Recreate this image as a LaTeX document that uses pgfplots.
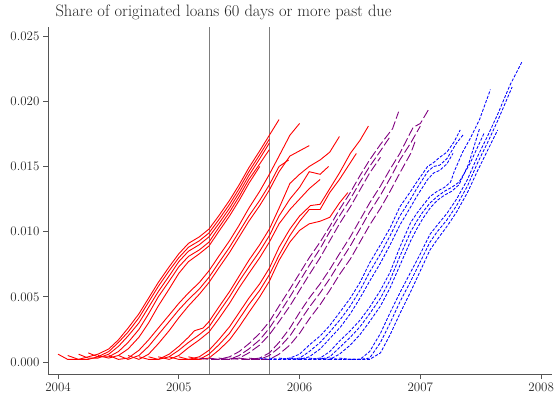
\documentclass[border=0pt]{standalone}
\usepackage{pgfplots}
\pgfplotsset{compat=1.18}
\usetikzlibrary{calc}

\definecolor{spine}{RGB}{85,85,85}
\definecolor{refline}{RGB}{125,125,125}
\definecolor{cohortred}{RGB}{255,0,0}
\definecolor{cohortpurple}{RGB}{128,0,128}
\definecolor{cohortblue}{RGB}{0,0,255}

\pgfplotsset{
  early/.style={cohortred, line width=0.9pt, no markers},
  middle/.style={cohortpurple, line width=0.9pt, no markers, dash pattern=on 9pt off 3pt},
  late/.style={cohortblue, line width=0.85pt, no markers, dash pattern=on 3pt off 1.6pt},
}

\begin{document}
\begin{tikzpicture}
\begin{axis}[
  name=ax,
  scale only axis,
  width=504pt, height=347pt,
  xmin=2003.917, xmax=2008.09,
  ymin=-0.00092, ymax=0.0257,
  axis lines=left,
  axis line style={-, spine, line width=0.9pt},
  tick align=outside,
  major tick length=5pt,
  tick style={spine, line width=0.8pt},
  xtick={2004,2005,2006,2007,2008},
  ytick={0,0.005,0.010,0.015,0.020,0.025},
  scaled y ticks=false,
  /pgf/number format/assume math mode=true,
  xticklabel style={/pgf/number format/1000 sep={}, font=\fontsize{13}{15}\selectfont, text=black!85},
  yticklabel style={/pgf/number format/.cd, fixed, fixed zerofill, precision=3,
                    /tikz/.cd, font=\fontsize{13}{15}\selectfont, text=black!85},
  clip=true,
]

% reference dates
\addplot[refline, line width=0.8pt] coordinates {(2005.25,-0.00092) (2005.25,0.0257)};
\addplot[refline, line width=0.8pt] coordinates {(2005.75,-0.00092) (2005.75,0.0257)};

% ---- early cohorts (solid red) ----
\addplot[early] coordinates {(2004.00,0.0006) (2004.08,0.0002) (2004.17,0.0002) (2004.25,0.0004) (2004.33,0.0006) (2004.42,0.0010) (2004.50,0.0017) (2004.58,0.0026) (2004.67,0.0037) (2004.75,0.0049) (2004.83,0.0061) (2004.92,0.0073) (2005.00,0.0083) (2005.08,0.0091) (2005.17,0.0096) (2005.25,0.0102) (2005.33,0.0112) (2005.42,0.0124) (2005.50,0.0136) (2005.58,0.0149) (2005.67,0.0162) (2005.75,0.0174) (2005.83,0.0186)};
\addplot[early] coordinates {(2004.08,0.0005) (2004.17,0.0002) (2004.25,0.0002) (2004.33,0.0004) (2004.42,0.0008) (2004.50,0.0015) (2004.58,0.0023) (2004.67,0.0034) (2004.75,0.0046) (2004.83,0.0058) (2004.92,0.0070) (2005.00,0.0080) (2005.08,0.0088) (2005.17,0.0093) (2005.25,0.0099) (2005.33,0.0109) (2005.42,0.0121) (2005.50,0.0133) (2005.58,0.0146) (2005.67,0.0159) (2005.75,0.0171)};
\addplot[early] coordinates {(2004.17,0.0006) (2004.25,0.0003) (2004.33,0.0003) (2004.42,0.0006) (2004.50,0.0012) (2004.58,0.0020) (2004.67,0.0030) (2004.75,0.0042) (2004.83,0.0054) (2004.92,0.0066) (2005.00,0.0077) (2005.08,0.0085) (2005.17,0.0090) (2005.25,0.0096) (2005.33,0.0106) (2005.42,0.0118) (2005.50,0.0130) (2005.58,0.0143) (2005.67,0.0156) (2005.75,0.0168)};
\addplot[early] coordinates {(2004.25,0.0007) (2004.33,0.0004) (2004.42,0.0004) (2004.50,0.0008) (2004.58,0.0015) (2004.67,0.0025) (2004.75,0.0037) (2004.83,0.0050) (2004.92,0.0062) (2005.00,0.0073) (2005.08,0.0081) (2005.17,0.0086) (2005.25,0.0092) (2005.33,0.0103) (2005.42,0.0115) (2005.50,0.0127) (2005.58,0.0140) (2005.67,0.0152) (2005.75,0.0163)};
\addplot[early] coordinates {(2004.33,0.0005) (2004.42,0.0003) (2004.50,0.0005) (2004.58,0.0010) (2004.67,0.0019) (2004.75,0.0030) (2004.83,0.0043) (2004.92,0.0056) (2005.00,0.0068) (2005.08,0.0077) (2005.17,0.0083) (2005.25,0.0089) (2005.33,0.0100) (2005.42,0.0112) (2005.50,0.0124) (2005.58,0.0137) (2005.67,0.0150)};

\addplot[early] coordinates {(2004.42,0.0005) (2004.50,0.0002) (2004.58,0.0003) (2004.67,0.0009) (2004.75,0.0017) (2004.83,0.0026) (2004.92,0.0036) (2005.00,0.0045) (2005.08,0.0053) (2005.17,0.0061) (2005.25,0.0070) (2005.33,0.0081) (2005.42,0.0093) (2005.50,0.0105) (2005.58,0.0118) (2005.67,0.0131) (2005.75,0.0144) (2005.83,0.0158) (2005.92,0.0174) (2006.00,0.0183)};
\addplot[early] coordinates {(2004.50,0.0005) (2004.58,0.0002) (2004.67,0.0005) (2004.75,0.0012) (2004.83,0.0021) (2004.92,0.0031) (2005.00,0.0040) (2005.08,0.0048) (2005.17,0.0056) (2005.25,0.0065) (2005.33,0.0076) (2005.42,0.0088) (2005.50,0.0100) (2005.58,0.0112) (2005.67,0.0124) (2005.75,0.0136) (2005.83,0.0150) (2005.91,0.0155)};
\addplot[early] coordinates {(2004.58,0.0005) (2004.67,0.0002) (2004.75,0.0006) (2004.83,0.0014) (2004.92,0.0024) (2005.00,0.0034) (2005.08,0.0043) (2005.17,0.0052) (2005.25,0.0061) (2005.33,0.0072) (2005.42,0.0084) (2005.50,0.0096) (2005.58,0.0108) (2005.67,0.0120) (2005.75,0.0132) (2005.83,0.0146) (2005.92,0.0158) (2006.00,0.0162) (2006.08,0.0166)};

\addplot[early] coordinates {(2004.67,0.0004) (2004.75,0.0002) (2004.83,0.0002) (2004.92,0.0006) (2005.00,0.0012) (2005.08,0.0019) (2005.13,0.0024) (2005.20,0.0026) (2005.25,0.0031) (2005.33,0.0042) (2005.42,0.0054) (2005.50,0.0066) (2005.58,0.0078) (2005.67,0.0090) (2005.75,0.0102) (2005.83,0.0118) (2005.92,0.0137) (2006.00,0.0144) (2006.08,0.0150) (2006.17,0.0155) (2006.25,0.0161) (2006.33,0.0173)};
\addplot[early] coordinates {(2004.75,0.0004) (2004.83,0.0002) (2004.92,0.0004) (2005.00,0.0009) (2005.08,0.0015) (2005.17,0.0021) (2005.25,0.0027) (2005.33,0.0038) (2005.42,0.0050) (2005.50,0.0062) (2005.58,0.0073) (2005.67,0.0085) (2005.75,0.0097) (2005.83,0.0112) (2005.92,0.0125) (2006.00,0.0134) (2006.08,0.0146) (2006.17,0.0144) (2006.24,0.0150)};
\addplot[early] coordinates {(2004.83,0.0004) (2004.92,0.0002) (2005.00,0.0005) (2005.08,0.0011) (2005.17,0.0017) (2005.25,0.0023) (2005.33,0.0033) (2005.42,0.0045) (2005.50,0.0057) (2005.58,0.0068) (2005.67,0.0080) (2005.75,0.0092) (2005.83,0.0106) (2005.92,0.0117) (2006.00,0.0125) (2006.08,0.0133) (2006.17,0.0140)};

\addplot[early] coordinates {(2004.92,0.0004) (2005.00,0.0002) (2005.08,0.0002) (2005.17,0.0004) (2005.25,0.0009) (2005.33,0.0017) (2005.42,0.0027) (2005.50,0.0038) (2005.58,0.0049) (2005.67,0.0060) (2005.75,0.0072) (2005.83,0.0088) (2005.92,0.0102) (2006.00,0.0112) (2006.09,0.0120) (2006.17,0.0121) (2006.25,0.0133) (2006.33,0.0145) (2006.42,0.0160) (2006.50,0.0170) (2006.57,0.0181)};
\addplot[early] coordinates {(2005.00,0.0004) (2005.08,0.0002) (2005.17,0.0002) (2005.25,0.0006) (2005.33,0.0013) (2005.42,0.0022) (2005.50,0.0033) (2005.58,0.0044) (2005.67,0.0055) (2005.75,0.0067) (2005.83,0.0082) (2005.92,0.0097) (2006.00,0.0108) (2006.08,0.0117) (2006.17,0.0117) (2006.25,0.0130) (2006.33,0.0140) (2006.40,0.0150) (2006.47,0.0160)};
\addplot[early] coordinates {(2005.08,0.0004) (2005.17,0.0002) (2005.25,0.0003) (2005.33,0.0009) (2005.42,0.0017) (2005.50,0.0027) (2005.58,0.0038) (2005.67,0.0050) (2005.75,0.0062) (2005.83,0.0078) (2005.92,0.0092) (2006.00,0.0101) (2006.08,0.0106) (2006.17,0.0108) (2006.25,0.0111) (2006.33,0.0122) (2006.40,0.0130)};

% ---- middle cohorts (long-dashed purple) ----
\addplot[middle] coordinates {(2005.17,0.0003) (2005.25,0.0002) (2005.33,0.0002) (2005.42,0.0004) (2005.50,0.0008) (2005.58,0.0014) (2005.67,0.0022) (2005.75,0.0031) (2005.83,0.0043) (2005.92,0.0056) (2006.00,0.0068) (2006.08,0.0080) (2006.17,0.0092) (2006.25,0.0104) (2006.33,0.0117) (2006.42,0.0130) (2006.50,0.0143) (2006.58,0.0155) (2006.67,0.0167) (2006.77,0.0179) (2006.82,0.0192)};
\addplot[middle] coordinates {(2005.25,0.0003) (2005.33,0.0002) (2005.42,0.0002) (2005.50,0.0005) (2005.58,0.0010) (2005.67,0.0017) (2005.75,0.0026) (2005.83,0.0037) (2005.92,0.0050) (2006.00,0.0062) (2006.08,0.0074) (2006.17,0.0087) (2006.25,0.0100) (2006.33,0.0112) (2006.42,0.0125) (2006.50,0.0138) (2006.58,0.0150) (2006.67,0.0162) (2006.75,0.0173)};
\addplot[middle] coordinates {(2005.33,0.0003) (2005.42,0.0002) (2005.50,0.0003) (2005.58,0.0007) (2005.67,0.0013) (2005.75,0.0021) (2005.83,0.0031) (2005.92,0.0043) (2006.00,0.0055) (2006.08,0.0067) (2006.17,0.0080) (2006.25,0.0093) (2006.33,0.0106) (2006.42,0.0119) (2006.50,0.0132) (2006.58,0.0145) (2006.67,0.0157)};

\addplot[middle] coordinates {(2005.42,0.0003) (2005.50,0.0002) (2005.58,0.0002) (2005.67,0.0003) (2005.75,0.0007) (2005.83,0.0015) (2005.92,0.0026) (2006.00,0.0038) (2006.08,0.0049) (2006.17,0.0060) (2006.25,0.0071) (2006.33,0.0083) (2006.42,0.0096) (2006.50,0.0109) (2006.58,0.0122) (2006.67,0.0135) (2006.75,0.0148) (2006.83,0.0160) (2006.94,0.0180) (2007.00,0.0183) (2007.07,0.0194)};
\addplot[middle] coordinates {(2005.50,0.0003) (2005.58,0.0002) (2005.67,0.0002) (2005.75,0.0005) (2005.83,0.0011) (2005.92,0.0020) (2006.00,0.0031) (2006.08,0.0042) (2006.17,0.0053) (2006.25,0.0064) (2006.33,0.0076) (2006.42,0.0089) (2006.50,0.0102) (2006.58,0.0115) (2006.67,0.0128) (2006.75,0.0141) (2006.83,0.0155) (2006.92,0.0168) (2007.00,0.0181)};
\addplot[middle] coordinates {(2005.58,0.0003) (2005.67,0.0002) (2005.75,0.0002) (2005.83,0.0006) (2005.92,0.0013) (2006.00,0.0022) (2006.08,0.0033) (2006.17,0.0044) (2006.25,0.0055) (2006.33,0.0067) (2006.42,0.0079) (2006.50,0.0092) (2006.58,0.0105) (2006.67,0.0118) (2006.75,0.0131) (2006.83,0.0145) (2006.92,0.0160) (2006.96,0.0170)};

% ---- late cohorts (short-dashed blue) ----
\addplot[late] coordinates {(2005.67,0.0003) (2005.75,0.0002) (2005.83,0.0002) (2005.92,0.0003) (2006.00,0.0006) (2006.08,0.0013) (2006.17,0.0020) (2006.25,0.0028) (2006.34,0.0039) (2006.42,0.0049) (2006.50,0.0061) (2006.58,0.0076) (2006.67,0.0090) (2006.75,0.0103) (2006.83,0.0119) (2006.92,0.0131) (2006.97,0.0138) (2007.06,0.0150) (2007.11,0.0153) (2007.16,0.0157) (2007.22,0.0161) (2007.28,0.0169) (2007.33,0.0178)};
\addplot[late] coordinates {(2005.75,0.0003) (2005.83,0.0002) (2005.92,0.0002) (2006.00,0.0003) (2006.08,0.0008) (2006.17,0.0015) (2006.25,0.0023) (2006.34,0.0033) (2006.42,0.0043) (2006.50,0.0055) (2006.58,0.0069) (2006.67,0.0083) (2006.75,0.0097) (2006.83,0.0112) (2006.92,0.0125) (2006.97,0.0133) (2007.06,0.0146) (2007.11,0.0150) (2007.16,0.0151) (2007.22,0.0156) (2007.30,0.0168) (2007.36,0.0175)};
\addplot[late] coordinates {(2005.83,0.0003) (2005.92,0.0002) (2006.00,0.0002) (2006.08,0.0004) (2006.17,0.0010) (2006.25,0.0018) (2006.34,0.0027) (2006.42,0.0037) (2006.50,0.0049) (2006.58,0.0062) (2006.67,0.0076) (2006.75,0.0090) (2006.83,0.0105) (2006.92,0.0119) (2006.97,0.0127) (2007.06,0.0140) (2007.11,0.0145) (2007.16,0.0147) (2007.22,0.0152) (2007.27,0.0160)};

\addplot[late] coordinates {(2005.92,0.0003) (2006.00,0.0002) (2006.08,0.0002) (2006.17,0.0003) (2006.25,0.0008) (2006.33,0.0016) (2006.42,0.0024) (2006.50,0.0032) (2006.58,0.0042) (2006.67,0.0055) (2006.75,0.0069) (2006.83,0.0088) (2006.92,0.0107) (2006.97,0.0114) (2007.02,0.0120) (2007.08,0.0127) (2007.14,0.0131) (2007.20,0.0134) (2007.25,0.0138) (2007.28,0.0146) (2007.35,0.0161) (2007.41,0.0171) (2007.49,0.0186) (2007.58,0.0209)};
\addplot[late] coordinates {(2006.00,0.0003) (2006.08,0.0002) (2006.17,0.0002) (2006.25,0.0004) (2006.33,0.0011) (2006.42,0.0019) (2006.50,0.0027) (2006.58,0.0037) (2006.67,0.0049) (2006.75,0.0063) (2006.83,0.0081) (2006.92,0.0100) (2006.97,0.0108) (2007.02,0.0115) (2007.08,0.0122) (2007.14,0.0127) (2007.20,0.0131) (2007.26,0.0134) (2007.32,0.0138) (2007.41,0.0152) (2007.53,0.0176)};
\addplot[late] coordinates {(2006.08,0.0003) (2006.17,0.0002) (2006.25,0.0002) (2006.33,0.0006) (2006.42,0.0013) (2006.50,0.0021) (2006.58,0.0031) (2006.67,0.0043) (2006.75,0.0057) (2006.83,0.0074) (2006.92,0.0093) (2006.97,0.0102) (2007.02,0.0110) (2007.08,0.0118) (2007.14,0.0124) (2007.20,0.0128) (2007.26,0.0131) (2007.32,0.0136) (2007.40,0.0152) (2007.49,0.0179)};

\addplot[late] coordinates {(2006.17,0.0003) (2006.25,0.0002) (2006.33,0.0002) (2006.42,0.0002) (2006.50,0.0002) (2006.58,0.0008) (2006.67,0.0022) (2006.75,0.0038) (2006.83,0.0053) (2006.92,0.0069) (2007.00,0.0083) (2007.08,0.0098) (2007.14,0.0105) (2007.22,0.0114) (2007.30,0.0125) (2007.39,0.0140) (2007.47,0.0157) (2007.56,0.0174) (2007.64,0.0190) (2007.74,0.0212) (2007.84,0.0230)};
\addplot[late] coordinates {(2006.25,0.0003) (2006.33,0.0002) (2006.42,0.0002) (2006.50,0.0002) (2006.58,0.0003) (2006.67,0.0015) (2006.75,0.0030) (2006.83,0.0046) (2006.92,0.0062) (2007.00,0.0077) (2007.08,0.0092) (2007.14,0.0100) (2007.22,0.0109) (2007.30,0.0120) (2007.39,0.0135) (2007.47,0.0152) (2007.56,0.0169) (2007.64,0.0185) (2007.76,0.0211)};
\addplot[late] coordinates {(2006.33,0.0003) (2006.42,0.0002) (2006.50,0.0002) (2006.58,0.0002) (2006.67,0.0007) (2006.75,0.0021) (2006.83,0.0037) (2006.92,0.0054) (2007.00,0.0070) (2007.08,0.0086) (2007.14,0.0094) (2007.22,0.0104) (2007.30,0.0115) (2007.39,0.0130) (2007.47,0.0146) (2007.56,0.0163) (2007.64,0.0178)};

\end{axis}

\node[anchor=base west, font=\fontsize{16.5}{19}\selectfont, text=black!85]
  at ($(ax.north west)+(4pt,10pt)$) {Share of originated loans 60 days or more past due};

\pgfresetboundingbox
\path[use as bounding box] ($(ax.south west)+(-48pt,-22pt)$) rectangle ($(ax.north east)+(2pt,27pt)$);
\end{tikzpicture}
\end{document}
